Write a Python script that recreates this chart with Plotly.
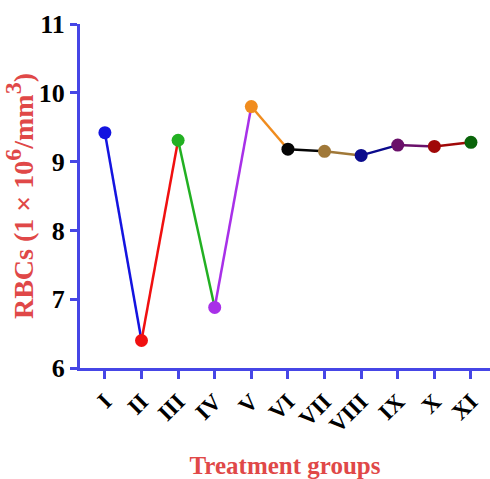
import plotly.graph_objects as go

groups = ["I", "II", "III", "IV", "V", "VI", "VII", "VIII", "IX", "X", "XI"]
rbc = [9.42, 6.40, 9.31, 6.88, 9.80, 9.18, 9.15, 9.09, 9.24, 9.22, 9.28]
colors = ["#1414e0", "#f01010", "#22b022", "#a830e8", "#f08c1e", "#050505",
          "#a07838", "#0a0a8c", "#6a106a", "#a00808", "#0a640a"]

xs = list(range(len(groups)))
fig = go.Figure()
for i in range(len(groups) - 1):
    fig.add_trace(go.Scatter(x=[xs[i], xs[i + 1]], y=[rbc[i], rbc[i + 1]], mode="lines",
                             line=dict(color=colors[i], width=2.5), showlegend=False,
                             hoverinfo="skip"))
fig.add_trace(go.Scatter(x=xs, y=rbc, mode="markers",
                         marker=dict(color=colors, size=13), showlegend=False))

axis_blue = "#4646e6"
serif = "Liberation Serif"
ytitle = ("RBCs (1 × 10<sup><span style='font-size:24px'>6</span></sup>/mm"
          "<sup><span style='font-size:24px'>3</span></sup>)")
fig.update_layout(
    width=490, height=479,
    margin=dict(l=80, r=0, t=24, b=109),
    plot_bgcolor="white", paper_bgcolor="white",
    xaxis=dict(range=[-0.68, 10.52], tickvals=xs, ticktext=groups, tickangle=-45,
               showgrid=False, zeroline=False, showline=True, linecolor=axis_blue,
               linewidth=3, ticks="outside", ticklen=8, tickwidth=3, tickcolor=axis_blue,
               tickfont=dict(family=serif, size=23, color="black", weight="bold"),
               title=dict(text="Treatment groups", standoff=24,
                          font=dict(family=serif, size=25, color="#e04848", weight="bold"))),
    yaxis=dict(range=[6, 11], tickvals=[6, 7, 8, 9, 10, 11], showgrid=False, zeroline=False,
               showline=True, linecolor=axis_blue, linewidth=3, ticks="outside",
               ticklen=7, tickwidth=3, tickcolor=axis_blue,
               tickfont=dict(family=serif, size=26, color="black", weight="bold"),
               title=dict(text=ytitle, standoff=3,
                          font=dict(family=serif, size=28, color="#e04848", weight="bold"))),
)
fig.write_html("out.html")
